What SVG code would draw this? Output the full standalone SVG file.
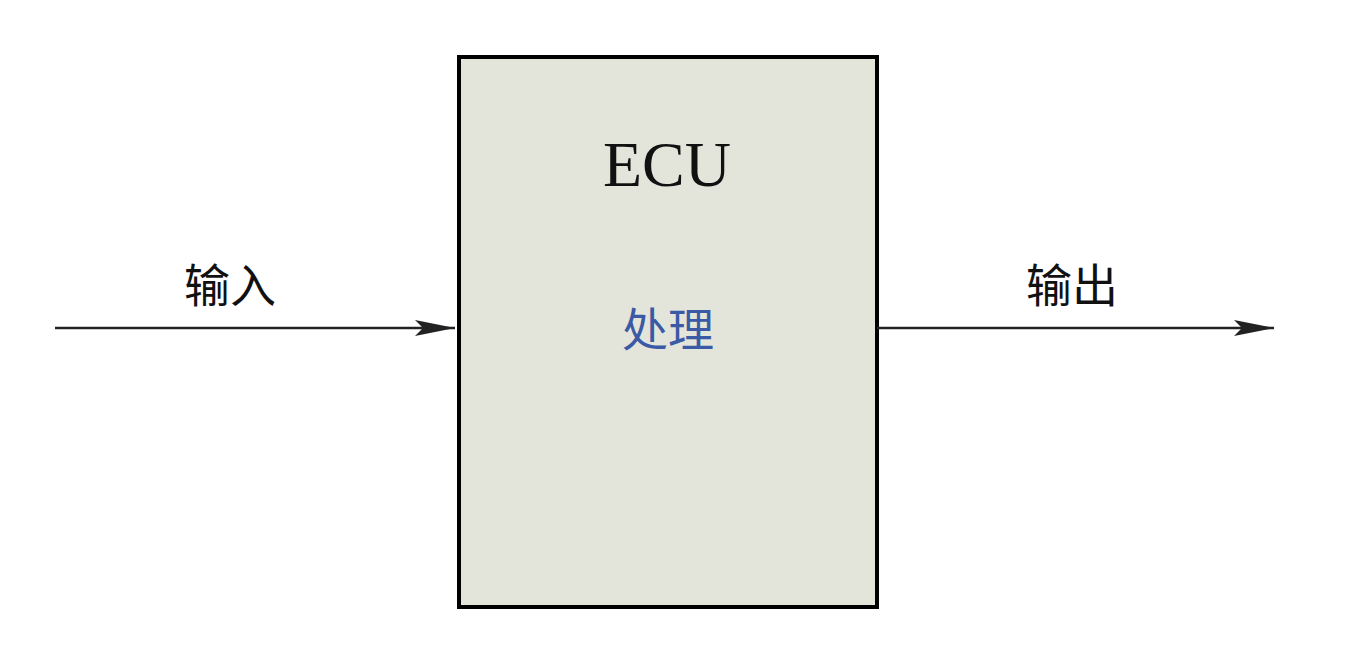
<svg xmlns="http://www.w3.org/2000/svg" width="1348" height="646" viewBox="0 0 1348 646">
<style>
.lbl{font-family:"Noto Sans CJK SC",sans-serif;font-size:46px;fill:#111}
.c{stroke:#222;stroke-width:2.5;fill:none}
</style>
<defs><marker id="a" viewBox="0 0 40 16" refX="40" refY="8" markerWidth="40" markerHeight="16" markerUnits="userSpaceOnUse" orient="auto"><path d="M0,0 L40,8 L0,16 L8,8 Z" fill="#222"/></marker></defs>
<rect width="1348" height="646" fill="#fff"/>
<g id="ecu">
<rect x="459" y="57" width="418" height="550" fill="#e3e4da" stroke="#000" stroke-width="4"/>
<text x="667" y="186" text-anchor="middle" font-family="Liberation Serif,serif" font-size="64" fill="#111">ECU</text>
<text x="668" y="346" text-anchor="middle" font-family="Noto Sans CJK SC,sans-serif" font-size="46" fill="#3a5aa5">处理</text>
</g>
<g id="connectors">
<line class="c" x1="55" y1="328" x2="455" y2="328" marker-end="url(#a)"/>
<line class="c" x1="877" y1="328" x2="1274" y2="328" marker-end="url(#a)"/>
</g>
<g id="labels">
<text class="lbl" x="230" y="302" text-anchor="middle">输入</text>
<text class="lbl" x="1072" y="302" text-anchor="middle">输出</text>
</g>
</svg>
